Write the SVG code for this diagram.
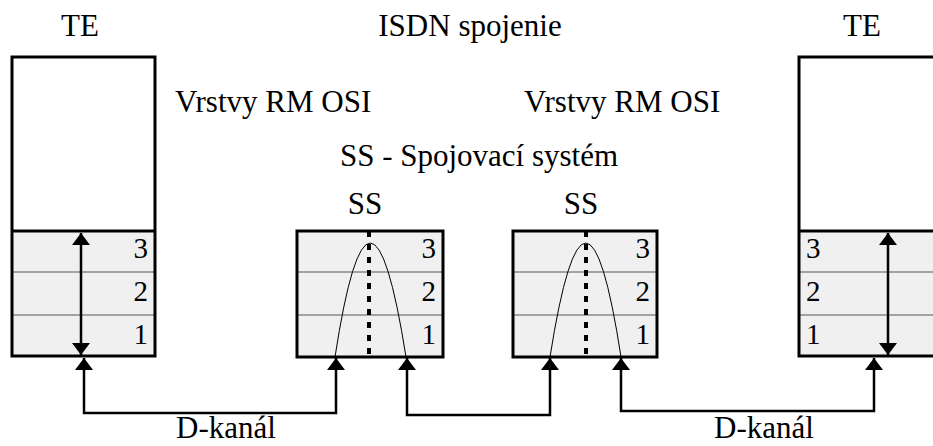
<svg xmlns="http://www.w3.org/2000/svg" width="933" height="446" viewBox="0 0 933 446">
  <style>
    text { font-family: "Liberation Serif", "Times New Roman", serif; font-size: 31px; fill: #000; }
    .num { font-size: 29px; }
    .mid { text-anchor: middle; }
    .end { text-anchor: end; }
    .frame { fill: none; stroke: #000; stroke-width: 3; }
    .top { fill: #fff; }
    .layer { fill: #f0f0f0; }
    .sep { stroke: #555; stroke-width: 1; }
    .thick { stroke: #000; stroke-width: 3; }
    .axis { stroke: #000; stroke-width: 4; stroke-dasharray: 6 7; }
    .route { fill: none; stroke: #000; stroke-width: 1; }
    .wire { fill: none; stroke: #000; stroke-width: 2.5; marker-start: url(#ah); marker-end: url(#ah); }
  </style>
  <defs>
    <marker id="ah" viewBox="0 0 12 18" refX="12" refY="9" markerWidth="12" markerHeight="18" markerUnits="userSpaceOnUse" orient="auto-start-reverse">
      <path d="M0,0 L12,9 L0,18 z" fill="#000"/>
    </marker>
  </defs>

  <!-- titles -->
  <text class="mid" x="80" y="36">TE</text>
  <text class="mid" x="470" y="36">ISDN spojenie</text>
  <text class="mid" x="862" y="36">TE</text>
  <text x="175" y="112">Vrstvy RM OSI</text>
  <text x="524" y="112">Vrstvy RM OSI</text>
  <text class="mid" x="479" y="166">SS - Spojovací systém</text>

  <!-- left terminal -->
  <g id="te-left">
    <rect class="top" x="12" y="57" width="143" height="174"/>
    <rect class="layer" x="12" y="231" width="143" height="125"/>
    <line class="sep" x1="12" y1="272" x2="155" y2="272"/>
    <line class="sep" x1="12" y1="315" x2="155" y2="315"/>
    <line class="thick" x1="12" y1="231" x2="155" y2="231"/>
    <rect class="frame" x="12" y="57" width="143" height="299"/>
    <text class="end num" x="148" y="258">3</text>
    <text class="end num" x="148" y="301">2</text>
    <text class="end num" x="148" y="344">1</text>
    <path class="wire" d="M81,233 V355"/>
  </g>

  <!-- switching system 1 -->
  <g id="ss-1">
    <text class="mid" x="365" y="214">SS</text>
    <rect class="layer" x="297" y="231" width="146" height="126"/>
    <line class="sep" x1="297" y1="272" x2="443" y2="272"/>
    <line class="sep" x1="297" y1="315" x2="443" y2="315"/>
    <rect class="frame" x="297" y="231" width="146" height="126"/>
    <line class="axis" x1="369" y1="231" x2="369" y2="357"/>
    <path class="route" d="M335,357 Q370,129 406,357"/>
    <text class="end num" x="436" y="258">3</text>
    <text class="end num" x="436" y="301">2</text>
    <text class="end num" x="436" y="344">1</text>
  </g>

  <!-- switching system 2 -->
  <g id="ss-2">
    <text class="mid" x="581" y="214">SS</text>
    <rect class="layer" x="513" y="231" width="144" height="126"/>
    <line class="sep" x1="513" y1="272" x2="657" y2="272"/>
    <line class="sep" x1="513" y1="315" x2="657" y2="315"/>
    <rect class="frame" x="513" y="231" width="144" height="126"/>
    <line class="axis" x1="586" y1="231" x2="586" y2="357"/>
    <path class="route" d="M550,357 Q586,129 621,357"/>
    <text class="end num" x="650" y="258">3</text>
    <text class="end num" x="650" y="301">2</text>
    <text class="end num" x="650" y="344">1</text>
  </g>

  <!-- right terminal -->
  <g id="te-right">
    <rect class="top" x="799" y="57" width="150" height="174"/>
    <rect class="layer" x="799" y="231" width="150" height="125"/>
    <line class="sep" x1="799" y1="272" x2="949" y2="272"/>
    <line class="sep" x1="799" y1="315" x2="949" y2="315"/>
    <line class="thick" x1="799" y1="231" x2="949" y2="231"/>
    <rect class="frame" x="799" y="57" width="150" height="299"/>
    <text class="num" x="806" y="258">3</text>
    <text class="num" x="806" y="301">2</text>
    <text class="num" x="806" y="344">1</text>
    <path class="wire" d="M888,233 V355"/>
  </g>

  <!-- D-channel links -->
  <g id="connectors">
    <path class="wire" d="M84,358 V413 H336 V358"/>
    <path class="wire" d="M407,358 V415 H550 V358"/>
    <path class="wire" d="M621,358 V411 H874 V358"/>
  </g>
  <text class="mid" x="226" y="438">D-kanál</text>
  <text class="mid" x="764" y="438">D-kanál</text>
</svg>
